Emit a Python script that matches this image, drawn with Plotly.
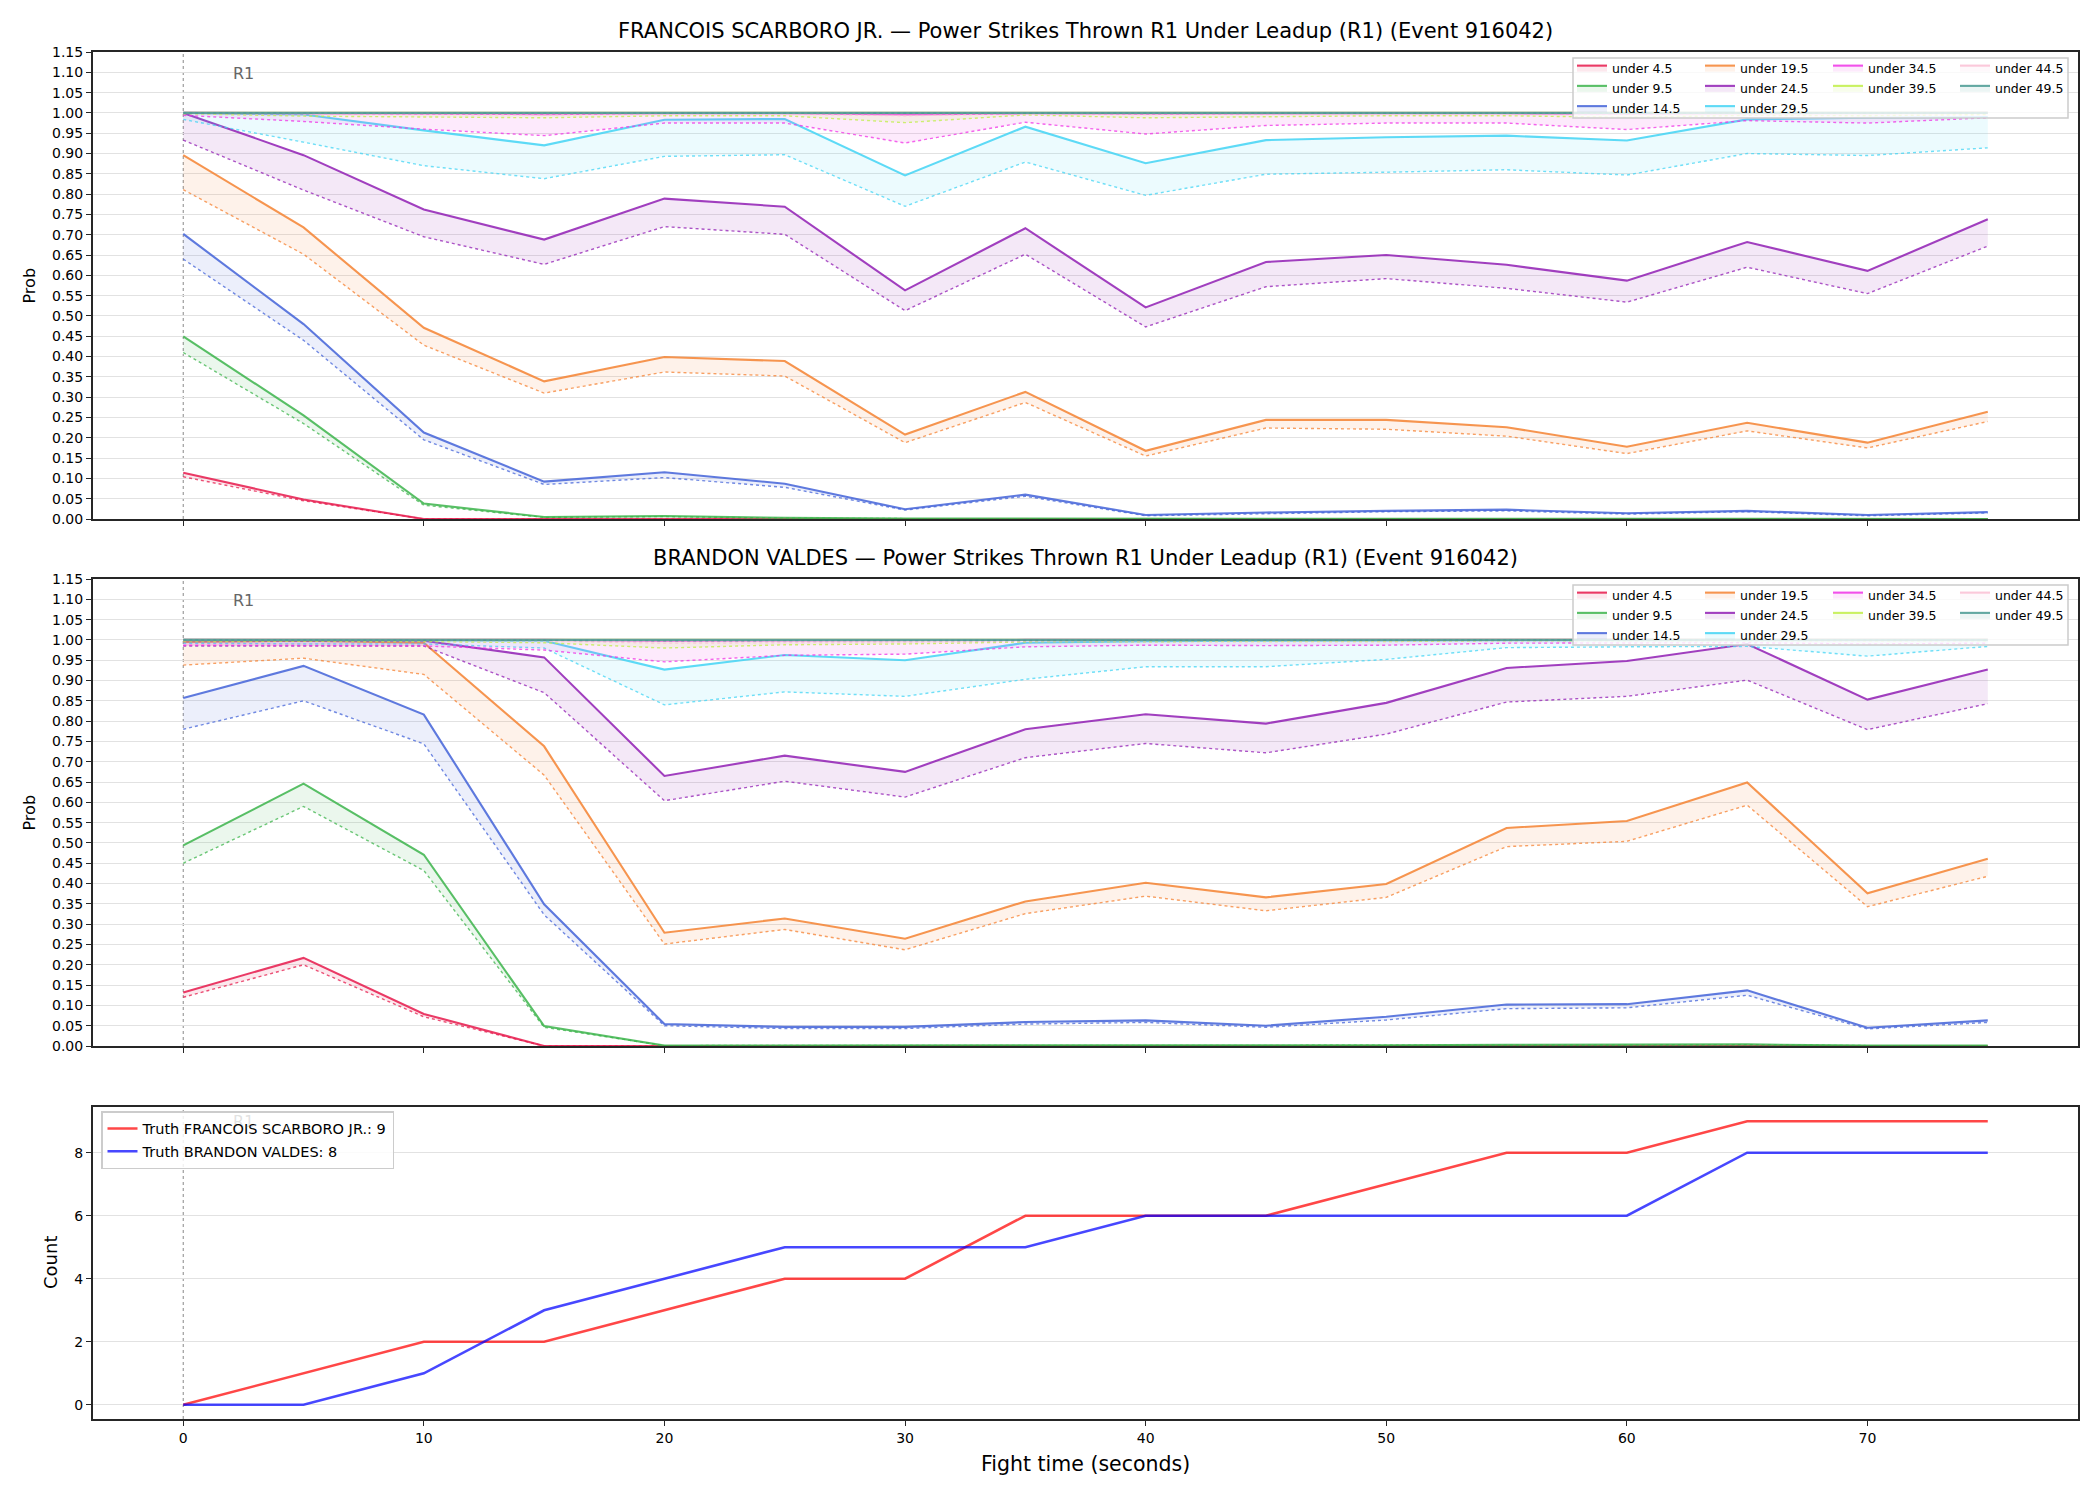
import plotly.graph_objects as go

# ---------------- data ----------------
t = [0, 5, 10, 15, 20, 25, 30, 35, 40, 45, 50, 55, 60, 65, 70, 75]

labels = ["under 4.5", "under 9.5", "under 14.5", "under 19.5", "under 24.5",
          "under 29.5", "under 34.5", "under 39.5", "under 44.5", "under 49.5"]
colors = ["#e6194b", "#3cb44b", "#4363d8", "#f58231", "#911eb4",
          "#42d4f4", "#f032e6", "#bfef45", "#fabed4", "#469990"]

# FRANCOIS SCARBORO JR. (main line / dotted lower line)
fr_u4_5 = [0.114, 0.048, 0.0, 0, 0, 0, 0, 0, 0, 0, 0, 0, 0, 0, 0, 0]
fr_u4_5_lo = [0.104, 0.045, 0.0, 0, 0, 0, 0, 0, 0, 0, 0, 0, 0, 0, 0, 0]
fr_u9_5 = [0.45, 0.255, 0.038, 0.005, 0.007, 0.003, 0.001, 0.001, 0, 0, 0, 0, 0, 0, 0, 0]
fr_u9_5_lo = [0.41, 0.235, 0.034, 0.004, 0.006, 0.002, 0.001, 0.001, 0, 0, 0, 0, 0, 0, 0, 0]
fr_u14_5 = [0.702, 0.48, 0.213, 0.092, 0.115, 0.087, 0.024, 0.06, 0.01, 0.016, 0.02, 0.023, 0.014, 0.02, 0.01, 0.017]
fr_u14_5_lo = [0.64, 0.44, 0.195, 0.085, 0.102, 0.078, 0.022, 0.056, 0.008, 0.013, 0.018, 0.02, 0.012, 0.018, 0.008, 0.015]
fr_u19_5 = [0.896, 0.718, 0.471, 0.339, 0.399, 0.389, 0.208, 0.313, 0.168, 0.244, 0.244, 0.226, 0.178, 0.237, 0.188, 0.264]
fr_u19_5_lo = [0.811, 0.652, 0.428, 0.31, 0.362, 0.352, 0.188, 0.287, 0.155, 0.224, 0.221, 0.204, 0.161, 0.217, 0.175, 0.24]
fr_u24_5 = [1.0, 0.896, 0.762, 0.688, 0.789, 0.769, 0.563, 0.716, 0.521, 0.633, 0.65, 0.626, 0.587, 0.682, 0.611, 0.738]
fr_u24_5_lo = [0.933, 0.81, 0.695, 0.627, 0.72, 0.701, 0.513, 0.652, 0.473, 0.572, 0.592, 0.568, 0.534, 0.62, 0.555, 0.672]
fr_u29_5 = [1.0, 0.996, 0.957, 0.92, 0.983, 0.985, 0.846, 0.966, 0.876, 0.933, 0.94, 0.944, 0.932, 0.984, 0.988, 0.99]
fr_u29_5_lo = [0.984, 0.928, 0.87, 0.838, 0.893, 0.897, 0.77, 0.879, 0.797, 0.849, 0.854, 0.86, 0.847, 0.9, 0.895, 0.914]
fr_u34_5 = [1.0, 0.999, 0.998, 0.997, 0.999, 0.999, 0.996, 0.999, 0.998, 0.999, 0.999, 0.999, 0.998, 0.999, 0.999, 1.0]
fr_u34_5_lo = [0.994, 0.979, 0.96, 0.944, 0.975, 0.975, 0.926, 0.977, 0.948, 0.969, 0.975, 0.975, 0.959, 0.981, 0.975, 0.988]
fr_u39_5 = [1.0, 1.0, 1.0, 0.999, 1.0, 1.0, 0.999, 1.0, 1.0, 1.0, 1.0, 1.0, 1.0, 1.0, 1.0, 1.0]
fr_u39_5_lo = [0.998, 0.992, 0.99, 0.988, 0.993, 0.993, 0.976, 0.995, 0.988, 0.991, 0.993, 0.993, 0.989, 0.994, 0.993, 0.996]
fr_u44_5 = [1.0, 1.0, 1.0, 1.0, 1.0, 1.0, 1.0, 1.0, 1.0, 1.0, 1.0, 1.0, 1.0, 1.0, 1.0, 1.0]
fr_u44_5_lo = [0.999, 0.997, 0.996, 0.995, 0.997, 0.997, 0.993, 0.998, 0.996, 0.997, 0.998, 0.998, 0.997, 0.998, 0.998, 0.999]
fr_u49_5 = [1.0, 1.0, 1.0, 1.0, 1.0, 1.0, 1.0, 1.0, 1.0, 1.0, 1.0, 1.0, 1.0, 1.0, 1.0, 1.0]
fr_u49_5_lo = [1.0, 0.999, 0.999, 0.999, 0.999, 0.999, 0.998, 0.999, 0.999, 0.999, 0.999, 0.999, 0.999, 0.999, 0.999, 1.0]

# BRANDON VALDES (main line / dotted lower line)
bv_u4_5 = [0.132, 0.217, 0.079, 0.0, 0, 0, 0, 0, 0, 0, 0, 0, 0, 0, 0, 0]
bv_u4_5_lo = [0.12, 0.2, 0.072, 0.0, 0, 0, 0, 0, 0, 0, 0, 0, 0, 0, 0, 0]
bv_u9_5 = [0.494, 0.646, 0.471, 0.049, 0.001, 0.001, 0.001, 0.002, 0.002, 0.001, 0.002, 0.003, 0.003, 0.004, 0.001, 0.001]
bv_u9_5_lo = [0.45, 0.59, 0.432, 0.046, 0.001, 0.001, 0.001, 0.001, 0.001, 0.001, 0.001, 0.002, 0.002, 0.003, 0.001, 0.001]
bv_u14_5 = [0.857, 0.936, 0.816, 0.349, 0.054, 0.047, 0.047, 0.059, 0.063, 0.05, 0.072, 0.102, 0.103, 0.137, 0.045, 0.063]
bv_u14_5_lo = [0.78, 0.85, 0.744, 0.323, 0.05, 0.043, 0.043, 0.054, 0.058, 0.046, 0.064, 0.092, 0.094, 0.125, 0.042, 0.058]
bv_u19_5 = [0.995, 0.998, 0.993, 0.738, 0.279, 0.314, 0.264, 0.356, 0.402, 0.366, 0.399, 0.537, 0.554, 0.649, 0.376, 0.461]
bv_u19_5_lo = [0.938, 0.955, 0.915, 0.667, 0.251, 0.287, 0.237, 0.326, 0.369, 0.333, 0.366, 0.491, 0.504, 0.593, 0.343, 0.418]
bv_u24_5 = [0.999, 0.999, 0.998, 0.957, 0.665, 0.715, 0.675, 0.78, 0.817, 0.794, 0.845, 0.931, 0.948, 0.99, 0.853, 0.927]
bv_u24_5_lo = [0.985, 0.985, 0.985, 0.87, 0.604, 0.652, 0.613, 0.71, 0.745, 0.722, 0.768, 0.847, 0.861, 0.901, 0.779, 0.843]
bv_u29_5 = [1.0, 1.0, 0.999, 0.998, 0.927, 0.963, 0.95, 0.993, 0.997, 0.998, 0.999, 0.999, 0.999, 0.999, 0.999, 0.999]
bv_u29_5_lo = [0.992, 0.99, 0.99, 0.98, 0.84, 0.872, 0.861, 0.903, 0.934, 0.934, 0.952, 0.981, 0.983, 0.984, 0.96, 0.984]
bv_u34_5 = [1.0, 1.0, 1.0, 1.0, 0.998, 0.999, 0.999, 1.0, 1.0, 1.0, 1.0, 1.0, 1.0, 1.0, 1.0, 1.0]
bv_u34_5_lo = [0.987, 0.986, 0.985, 0.975, 0.946, 0.962, 0.965, 0.983, 0.987, 0.986, 0.987, 0.992, 0.992, 0.993, 0.99, 0.992]
bv_u39_5 = [1.0, 1.0, 1.0, 1.0, 1.0, 1.0, 1.0, 1.0, 1.0, 1.0, 1.0, 1.0, 1.0, 1.0, 1.0, 1.0]
bv_u39_5_lo = [0.997, 0.997, 0.996, 0.993, 0.98, 0.988, 0.99, 0.995, 0.996, 0.996, 0.996, 0.998, 0.998, 0.998, 0.997, 0.998]
bv_u44_5 = [1.0, 1.0, 1.0, 1.0, 1.0, 1.0, 1.0, 1.0, 1.0, 1.0, 1.0, 1.0, 1.0, 1.0, 1.0, 1.0]
bv_u44_5_lo = [0.999, 0.999, 0.999, 0.997, 0.992, 0.993, 0.994, 0.997, 0.998, 0.998, 0.998, 0.999, 0.999, 0.999, 0.999, 0.999]
bv_u49_5 = [1.0, 1.0, 1.0, 1.0, 1.0, 1.0, 1.0, 1.0, 1.0, 1.0, 1.0, 1.0, 1.0, 1.0, 1.0, 1.0]
bv_u49_5_lo = [1.0, 1.0, 1.0, 0.999, 0.998, 0.998, 0.998, 0.999, 0.999, 0.999, 0.999, 1.0, 1.0, 1.0, 1.0, 1.0]

# Truth counts
truth_fr = [0, 1, 2, 2, 3, 4, 4, 6, 6, 6, 7, 8, 8, 9, 9, 9]
truth_bv = [0, 0, 1, 3, 4, 5, 5, 5, 6, 6, 6, 6, 6, 8, 8, 8]

fighter_fr = "FRANCOIS SCARBORO JR."
fighter_bv = "BRANDON VALDES"
title_suffix = " — Power Strikes Thrown R1 Under Leadup (R1) (Event 916042)"

fr_main = [fr_u4_5, fr_u9_5, fr_u14_5, fr_u19_5, fr_u24_5, fr_u29_5, fr_u34_5, fr_u39_5, fr_u44_5, fr_u49_5]
fr_lo = [fr_u4_5_lo, fr_u9_5_lo, fr_u14_5_lo, fr_u19_5_lo, fr_u24_5_lo, fr_u29_5_lo, fr_u34_5_lo, fr_u39_5_lo, fr_u44_5_lo, fr_u49_5_lo]
bv_main = [bv_u4_5, bv_u9_5, bv_u14_5, bv_u19_5, bv_u24_5, bv_u29_5, bv_u34_5, bv_u39_5, bv_u44_5, bv_u49_5]
bv_lo = [bv_u4_5_lo, bv_u9_5_lo, bv_u14_5_lo, bv_u19_5_lo, bv_u24_5_lo, bv_u29_5_lo, bv_u34_5_lo, bv_u39_5_lo, bv_u44_5_lo, bv_u49_5_lo]

# ---------------- layout helpers ----------------
W, H = 2100, 1500
FONT = "DejaVu Sans"
AX = "#262626"


def px(x):
    return x / W


def py(y):
    return 1 - y / H


def rgba(hx, a):
    h = hx.lstrip("#")
    r, g, b = int(h[0:2], 16), int(h[2:4], 16), int(h[4:6], 16)
    return f"rgba({r},{g},{b},{a})"


X0, X1 = 93, 2078
plots = {1: (52, 519), 2: (579, 1046), 3: (1107, 1419)}
col_of = [0, 0, 0, 1, 1, 1, 2, 2, 3, 3]
col_x = [1572, 1700, 1828, 1955]

fig = go.Figure()

for p, mains, los in ((1, fr_main, fr_lo), (2, bv_main, bv_lo)):
    xa = "x" if p == 1 else f"x{p}"
    ya = "y" if p == 1 else f"y{p}"
    for i in range(len(labels)):
        c = colors[i]
        fig.add_trace(go.Scatter(
            x=t, y=los[i], mode="lines", xaxis=xa, yaxis=ya,
            line=dict(color=rgba(c, 0.75), width=1.4, dash="dot"),
            showlegend=False, hoverinfo="skip"))
        leg_idx = (p - 1) * 4 + col_of[i] + 1
        fig.add_trace(go.Scatter(
            x=t, y=mains[i], mode="lines", xaxis=xa, yaxis=ya,
            name=labels[i], fill="tonexty", fillcolor=rgba(c, 0.1),
            line=dict(color=rgba(c, 0.85), width=2.1),
            legendgroup=f"p{p}_{i}",
            legend="legend" if leg_idx == 1 else f"legend{leg_idx}"))

fig.add_trace(go.Scatter(x=t, y=truth_fr, mode="lines", xaxis="x3", yaxis="y3",
                         name=f"Truth {fighter_fr}: {truth_fr[-1]}", legendgroup="tfr",
                         line=dict(color="rgba(255,0,0,0.72)", width=2.6), legend="legend9"))
fig.add_trace(go.Scatter(x=t, y=truth_bv, mode="lines", xaxis="x3", yaxis="y3",
                         name=f"Truth {fighter_bv}: {truth_bv[-1]}", legendgroup="tbv",
                         line=dict(color="rgba(0,0,255,0.72)", width=2.6), legend="legend9"))

layout = dict(
    width=W, height=H,
    margin=dict(l=0, r=0, t=0, b=0, autoexpand=False),
    paper_bgcolor="white", plot_bgcolor="white",
    font=dict(family=FONT, size=14, color="black"),
    showlegend=True,
)

xcommon = dict(range=[-3.75, 78.75], tickvals=[0, 10, 20, 30, 40, 50, 60, 70],
               ticks="outside", ticklen=5, tickwidth=1.3, tickcolor=AX,
               showline=True, linecolor=AX, linewidth=2, mirror=True, automargin=False,
               showgrid=False, zeroline=False, tickfont=dict(size=14, family=FONT))
ycommon = dict(ticks="outside", ticklen=5, tickwidth=1.3, tickcolor=AX,
               showline=True, linecolor=AX, linewidth=2, mirror=True, automargin=False,
               showgrid=True, gridcolor="#e2e2e2", gridwidth=1, zeroline=False,
               tickfont=dict(size=14, family=FONT))

for p in (1, 2, 3):
    top, bot = plots[p]
    xk = "xaxis" if p == 1 else f"xaxis{p}"
    yk = "yaxis" if p == 1 else f"yaxis{p}"
    xa = "x" if p == 1 else f"x{p}"
    ya = "y" if p == 1 else f"y{p}"
    layout[xk] = dict(xcommon, domain=[px(X0), px(X1)], anchor=ya,
                      showticklabels=(p == 3))
    if p < 3:
        layout[yk] = dict(ycommon, domain=[py(bot), py(top)], anchor=xa,
                          range=[0, 1.15], dtick=0.05, tick0=0, tickformat=".2f")
    else:
        layout[yk] = dict(ycommon, domain=[py(bot), py(top)], anchor=xa,
                          range=[-0.45, 9.45], tickvals=[0, 2, 4, 6, 8])

# legends
for p in (1, 2):
    off = plots[p][0] - plots[1][0]
    for c in range(4):
        idx = (p - 1) * 4 + c + 1
        key = "legend" if idx == 1 else f"legend{idx}"
        layout[key] = dict(x=px(col_x[c]), xanchor="left", y=py(53 + off), yanchor="top",
                           orientation="v", bgcolor="rgba(0,0,0,0)", borderwidth=0,
                           font=dict(size=12.5, family=FONT), traceorder="grouped",
                           tracegroupgap=1)
layout["legend9"] = dict(x=px(101), xanchor="left", y=py(1111), yanchor="top",
                         orientation="v", bgcolor="rgba(255,255,255,0.85)",
                         bordercolor="#cccccc", borderwidth=1.5,
                         font=dict(size=14.5, family=FONT), traceorder="grouped",
                         tracegroupgap=1)

shapes = []
annotations = []
for p in (1, 2, 3):
    xa = "x" if p == 1 else f"x{p}"
    ya = "y" if p == 1 else f"y{p}"
    shapes.append(dict(type="line", xref=xa, yref=f"{ya} domain", x0=0, x1=0, y0=0, y1=1,
                       line=dict(color="#888888", width=1, dash="dot"), layer="below"))
    annotations.append(dict(x=2.5, xref=xa, y=0.955, yref=f"{ya} domain", text="R1",
                            showarrow=False, xanchor="center", yanchor="middle",
                            font=dict(size=16, family=FONT,
                                      color="#666666" if p < 3 else "rgba(102,102,102,0.2)")))
for p in (1, 2):
    off = plots[p][0] - plots[1][0]
    shapes.append(dict(type="rect", xref="paper", yref="paper",
                       x0=px(1573), x1=px(2068), y0=py(58 + off), y1=py(118 + off),
                       fillcolor="rgba(255,255,255,0.8)",
                       line=dict(color="#cccccc", width=1.5), layer="above"))

# titles
annotations.append(dict(x=px((X0 + X1) / 2), xref="paper", y=py(31), yref="paper",
                        text=fighter_fr + title_suffix, showarrow=False,
                        xanchor="center", yanchor="middle", font=dict(size=21, family=FONT)))
annotations.append(dict(x=px((X0 + X1) / 2), xref="paper", y=py(558), yref="paper",
                        text=fighter_bv + title_suffix, showarrow=False,
                        xanchor="center", yanchor="middle", font=dict(size=21, family=FONT)))
# axis titles
annotations.append(dict(x=px(29), xref="paper", y=py((52 + 519) / 2), yref="paper",
                        text="Prob", textangle=-90, showarrow=False,
                        xanchor="center", yanchor="middle", font=dict(size=16, family=FONT)))
annotations.append(dict(x=px(29), xref="paper", y=py((579 + 1046) / 2), yref="paper",
                        text="Prob", textangle=-90, showarrow=False,
                        xanchor="center", yanchor="middle", font=dict(size=16, family=FONT)))
annotations.append(dict(x=px(50), xref="paper", y=py((1107 + 1419) / 2), yref="paper",
                        text="Count", textangle=-90, showarrow=False,
                        xanchor="center", yanchor="middle", font=dict(size=18, family=FONT)))
annotations.append(dict(x=px((X0 + X1) / 2), xref="paper", y=py(1464), yref="paper",
                        text="Fight time (seconds)", showarrow=False,
                        xanchor="center", yanchor="middle", font=dict(size=20.5, family=FONT)))

layout["shapes"] = shapes
layout["annotations"] = annotations
fig.update_layout(**layout)

fig.write_html("out.html")
